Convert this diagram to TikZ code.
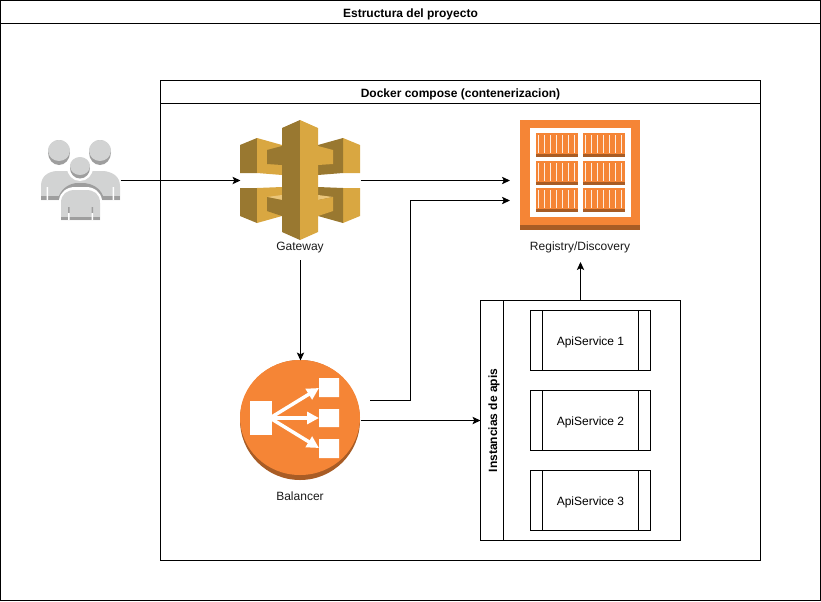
\documentclass[tikz,border=0pt]{standalone}
\usepackage{fontspec}
\setmainfont{Liberation Sans}
\usetikzlibrary{arrows.meta}
\definecolor{awsorange}{HTML}{F58536}
\definecolor{awsrust}{HTML}{A85C25}
\definecolor{awsgold}{HTML}{D9A741}
\definecolor{awsbrown}{HTML}{997830}
\definecolor{awspale}{HTML}{EAC57A}
\definecolor{usergrey}{HTML}{D2D3D3}
\definecolor{userdark}{HTML}{9E9E9E}
\definecolor{labelgrey}{HTML}{1A1A1A}
\def\px{.75pt}
\tikzset{
  panel/.style={draw, line width=\px, inner sep=0pt, outer sep=0pt, text height=7.5pt, text depth=0pt},
  title/.style={font=\fontsize{9}{11}\selectfont\bfseries},
  iconbox/.style={inner sep=0pt, outer sep=0pt, minimum width=120*\px, minimum height=120*\px},
  iconlabel/.style={text=labelgrey, text height=7.5pt, text depth=0pt},
  link/.style={->, line width=\px},
}
\begin{document}
\begin{tikzpicture}[x=\px, y=-\px, >={Stealth[length=6pt, width=5.5pt, inset=1.4pt]}, every node/.style={font=\fontsize{9}{11}\selectfont}]
  \useasboundingbox (0,0) rectangle (821,601);
  % frames
  \node[panel, minimum width=820*\px, minimum height=600*\px] (project) at (410.5,300.5) {};
  \node[panel, title, minimum width=820*\px, minimum height=23*\px] (projectTitle) at (410.5,12) {Estructura del proyecto};
  \node[panel, minimum width=600*\px, minimum height=480*\px] (compose) at (460.5,320.5) {};
  \node[panel, title, minimum width=600*\px, minimum height=23*\px] (composeTitle) at (460.5,92) {Docker compose (contenerizacion)};
  % apis
  \node[panel, minimum width=200*\px, minimum height=240*\px] (apis) at (580.5,420.5) {};
  \node[panel, title, rotate=90, minimum width=240*\px, minimum height=23*\px] (apisTitle) at (492,420.5) {Instancias de apis};
  \foreach \n/\y in {1/340.5, 2/420.5, 3/500.5} {
    \node[panel, minimum width=120*\px, minimum height=60*\px] (api\n) at (590.5,\y) {ApiService \n};
    \draw[line width=\px] (542.5,\y-30) -- (542.5,\y+30) (638.5,\y-30) -- (638.5,\y+30);
  }
  % icon anchors
  \node[iconbox, minimum width=80*\px, minimum height=80*\px] (users) at (80.5,180.5) {};
  \node[iconbox] (gateway) at (300.5,180.5) {};
  \node[iconbox] (registry) at (580.5,180.5) {};
  \node[iconbox] (balancer) at (300.5,420.5) {};
  \node[iconlabel] (gatewayLabel) at (300,245) {Gateway};
  \node[iconlabel] (registryLabel) at (580,245) {Registry/Discovery};
  \node[iconlabel] (balancerLabel) at (300,495) {Balancer};
  % users
  \fill[usergrey] (41,200) -- (41,186) .. controls (41,176) and (48,172) .. (56,171) -- (104,171) .. controls (112,172) and (120,176) .. (120,186) -- (120,200) -- cycle;
  \fill[userdark] (41,196) rectangle (120,200);
  \fill[white] (46.5,187) rectangle (48,200) (112.5,187) rectangle (114,200);
  \fill[userdark] (59,152.5) ellipse (11 and 12.5) (100,152.5) ellipse (11 and 12.5);
  \fill[usergrey] (59,150.5) ellipse (11 and 10.5) (100,150.5) ellipse (11 and 10.5);
  \fill[white] (80,167.5) ellipse (13 and 13.5);
  \fill[userdark] (59,196) .. controls (62,188) and (70,183) .. (78,183) -- (82,183) .. controls (92,183) and (100,188) .. (103,196) -- cycle;
  \fill[white] (59,222) -- (59,200) .. controls (60,192) and (67,187) .. (75,187) -- (86,187) .. controls (94,187) and (101,192) .. (102,200) -- (102,222) -- cycle;
  \fill[usergrey] (61,220) -- (61,203) .. controls (61,194) and (67,190) .. (75,190) -- (86,190) .. controls (94,190) and (100,194) .. (100,203) -- (100,220) -- cycle;
  \fill[userdark] (61,217) rectangle (100,220);
  \fill[userdark] (68,207) rectangle (69.5,213) (91.5,207) rectangle (93,213);
  \fill[white] (68,213) rectangle (69.5,220) (91.5,213) rectangle (93,220);
  \fill[userdark] (80,168) ellipse (10 and 10.5);
  \fill[usergrey] (80,166) ellipse (10 and 9);
  % gateway
  \fill[awsbrown] (240,145) -- (257,138) -- (257,173) -- (240,173) -- cycle;
  \fill[awsgold] (257,138) -- (282,145) -- (282,175) -- (257,173) -- cycle;
  \fill[awsbrown] (267,150) -- (282,146) -- (282,165) -- (267,164) -- cycle;
  \fill[awsgold] (360,145) -- (343,138) -- (343,173) -- (360,173) -- cycle;
  \fill[awsbrown] (343,138) -- (318,145) -- (318,175) -- (343,173) -- cycle;
  \fill[awsgold] (333,150) -- (318,146) -- (318,165) -- (333,164) -- cycle;
  \fill[awsbrown] (240,188) -- (257,188) -- (257,223) -- (240,216) -- cycle;
  \fill[awsgold] (257,188) -- (282,187) -- (282,216) -- (257,223) -- cycle;
  \fill[awspale] (267,197) -- (282,195) -- (282,200) -- cycle;
  \fill[awsbrown] (267,197) -- (282,200) -- (282,216) -- (267,211) -- cycle;
  \fill[awsgold] (360,188) -- (343,188) -- (343,223) -- (360,216) -- cycle;
  \fill[awsbrown] (343,188) -- (318,187) -- (318,216) -- (343,223) -- cycle;
  \fill[awspale] (333,197) -- (318,195) -- (318,200) -- cycle;
  \fill[awsgold] (333,197) -- (318,200) -- (318,216) -- (333,211) -- cycle;
  \fill[awsbrown] (300,120) -- (282,128) -- (282,232) -- (300,240) -- cycle;
  \fill[awsgold] (300,120) -- (318,128) -- (318,232) -- (300,240) -- cycle;
  % registry
  \fill[awsorange] (520,120) rectangle (640,230);
  \fill[awsrust] (520,225) rectangle (640,230);
  \fill[white] (530,128) rectangle (631,217);
  \foreach \cx in {536,583} {
    \foreach \cy in {133,161,188} {
      \fill[awsorange] (\cx,\cy) rectangle (\cx+42,\cy+24);
      \fill[awsrust] (\cx,\cy+20.5) rectangle (\cx+42,\cy+24);
      \foreach \s in {0,...,6}
        \fill[white!85!awsorange] (\cx+1.6+6*\s,\cy+2) rectangle (\cx+3.4+6*\s,\cy+20);
    }
  }
  % balancer
  \fill[awsrust] (300,420) ellipse (60 and 60);
  \fill[awsorange] (300,417.5) ellipse (60 and 57.5);
  \fill[white] (250,401) rectangle (272,435);
  \fill[white] (319,378) rectangle (339,397) (319,409) rectangle (339,427) (319,439) rectangle (339,458);
  \foreach \t in {388,418,448}
    \draw[white, line width=2.6pt, -{Triangle[length=9pt, width=9pt]}] (270,418) -- (319,\t);
  % links
  \coordinate (registryFromGateway) at (510,180.5);
  \coordinate (registryFromBalancer) at (510,200.5);
  \coordinate (balancerOut) at (370,400.5);
  \coordinate (registryFromApis) at (580.5,262);
  \coordinate (gatewayOut) at (300.5,260);
  \draw[link] (users.east) -- (gateway.west);
  \draw[link] (gateway.east) -- (registryFromGateway);
  \draw[link] (gatewayOut) -- (balancer.north);
  \draw[link] (balancerOut) -- (410.5,400.5) -- (410.5,200.5) -- (registryFromBalancer);
  \draw[link] (balancer.east) -- (apis.west);
  \draw[link] (apis.north) -- (registryFromApis);
\end{tikzpicture}
\end{document}
